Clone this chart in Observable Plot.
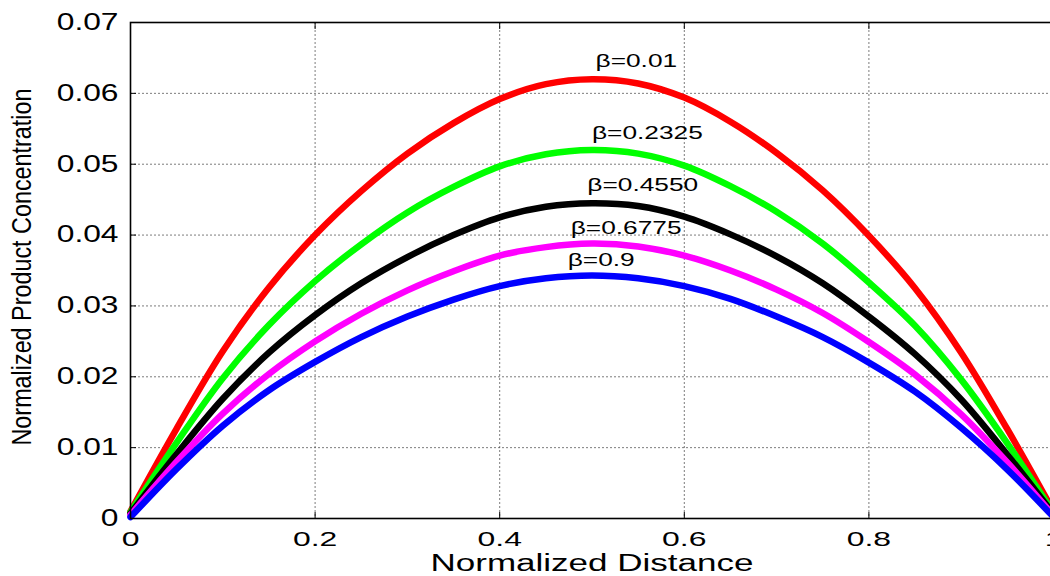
<!DOCTYPE html>
<html>
<head>
<meta charset="utf-8">
<script src="https://cdn.jsdelivr.net/npm/d3@7"></script>
<script src="https://cdn.jsdelivr.net/npm/@observablehq/plot@0.6"></script>
<style>
  html, body { margin: 0; padding: 0; background: white; overflow: hidden; }
</style>
</head>
<body>
<script>
// Normalized distance sample points
const xs = [0, 0.05, 0.1, 0.15, 0.2, 0.25, 0.3, 0.35, 0.4, 0.45, 0.5, 0.55, 0.6, 0.65, 0.7, 0.75, 0.8, 0.85, 0.9, 0.95, 1];

// Normalized product concentration, one array per beta
const beta001  = [0.0010, 0.0127, 0.0236, 0.0326, 0.0400, 0.0462, 0.0515, 0.0558, 0.0592, 0.0613, 0.0620, 0.0614, 0.0594, 0.0560, 0.0516, 0.0463, 0.0399, 0.0325, 0.0234, 0.0126, 0.0010];
const beta02325 = [0.0009, 0.0107, 0.0198, 0.0273, 0.0335, 0.0387, 0.0432, 0.0468, 0.0497, 0.0514, 0.0520, 0.0515, 0.0498, 0.0469, 0.0433, 0.0388, 0.0333, 0.0272, 0.0196, 0.0106, 0.0008];
const beta04550 = [0.0007, 0.0091, 0.0169, 0.0234, 0.0287, 0.0332, 0.0369, 0.0400, 0.0425, 0.0440, 0.0445, 0.0441, 0.0426, 0.0401, 0.0370, 0.0332, 0.0285, 0.0232, 0.0168, 0.0090, 0.0006];
const beta06775 = [0.0005, 0.0080, 0.0148, 0.0204, 0.0250, 0.0289, 0.0322, 0.0349, 0.0371, 0.0383, 0.0388, 0.0384, 0.0371, 0.0350, 0.0323, 0.0290, 0.0249, 0.0203, 0.0147, 0.0079, 0.0004];
const beta09   = [0.0002, 0.0070, 0.0131, 0.0181, 0.0221, 0.0256, 0.0285, 0.0309, 0.0328, 0.0339, 0.0343, 0.0339, 0.0328, 0.0310, 0.0285, 0.0256, 0.0220, 0.0179, 0.0128, 0.0069, 0.0002];

const seriesNames = ["β=0.01", "β=0.2325", "β=0.4550", "β=0.6775", "β=0.9"];
const seriesValues = [beta001, beta02325, beta04550, beta06775, beta09];
const seriesColors = ["#ff0000", "#00ff00", "#000000", "#ff00ff", "#0000ff"];

// label anchor points (data units)
const labelX = [0.548, 0.560, 0.555, 0.537, 0.510];
const labelY = [0.0646, 0.0544, 0.0470, 0.0409, 0.0365];

// ticks
const xTicks = [0, 0.2, 0.4, 0.6, 0.8, 1];
const xTickLabels = ["0", "0.2", "0.4", "0.6", "0.8", "1"];
const yTicks = [0, 0.01, 0.02, 0.03, 0.04, 0.05, 0.06, 0.07];
const yTickLabels = ["0", "0.01", "0.02", "0.03", "0.04", "0.05", "0.06", "0.07"];

const xTitle = "Normalized Distance";
const yTitle = "Normalized Product Concentration";

// build table
const rows = [];
seriesNames.forEach((name, i) => {
  xs.forEach((x, j) => rows.push({series: name, x, y: seriesValues[i][j]}));
});
const labels = seriesNames.map((name, i) => ({text: name, x: labelX[i], y: labelY[i]}));

const colorOf = new Map(seriesNames.map((n, i) => [n, seriesColors[i]]));

const plot = Plot.plot({
  width: 1050,
  height: 576,
  marginLeft: 130,
  marginRight: -3,
  marginTop: 22,
  marginBottom: 58,
  style: {background: "white", overflow: "hidden", fontFamily: "'Liberation Sans', Arial, sans-serif", color: "black"},
  x: {domain: [0, 1], label: null},
  y: {domain: [0, 0.07], label: null},
  marks: [
    Plot.gridX(xTicks.slice(1, -1), {stroke: "#444", strokeOpacity: 0.7, strokeDasharray: "2,2", strokeWidth: 1}),
    Plot.gridY(yTicks.slice(1, -1), {stroke: "#444", strokeOpacity: 0.7, strokeDasharray: "2,2", strokeWidth: 1}),
    ...seriesNames.map(name => Plot.line(rows.filter(d => d.series === name), {
      x: "x", y: "y", stroke: colorOf.get(name), strokeWidth: 6.5, curve: "catmull-rom"
    })),
    Plot.text(labels, {x: "x", y: "y", text: "text", fontSize: 18, fill: "black", textAnchor: "middle"}),
    Plot.frame({stroke: "black", strokeWidth: 1.6}),
    Plot.axisX(xTicks, {anchor: "bottom", tickSize: -6, tickPadding: 19, tickFormat: (d, i) => xTickLabels[i], fontSize: 21, label: null}),
    Plot.axisX(xTicks, {anchor: "top", tickSize: -6, tickFormat: () => "", label: null}),
    Plot.axisY(yTicks, {anchor: "left", tickSize: -6, tickPadding: 18, tickFormat: (d, i) => yTickLabels[i], fontSize: 23, label: null}),
    Plot.text([xTitle], {frameAnchor: "bottom", dy: 45, textAnchor: "middle", lineAnchor: "middle", fontSize: 23, fill: "black"}),
    Plot.text([yTitle], {frameAnchor: "left", dx: -108, dy: -3.5, rotate: -90, textAnchor: "middle", lineAnchor: "middle", fontSize: 28, fill: "black"})
  ]
});

document.body.append(plot);

// horizontal stretch of the text, as in the reference picture
plot.querySelectorAll("text").forEach(t => {
  const s = t.textContent;
  if (!s) return;
  const g = t.parentNode && t.parentNode.getAttribute ? t.parentNode.getAttribute("aria-label") : null;
  const w = t.getComputedTextLength();
  let target = null;
  if (g === "y-axis tick label") target = w * 1.38;
  else if (g === "x-axis tick label") target = w * 1.52;
  else if (s.startsWith("β")) target = w * 1.46;
  else if (s === xTitle) target = 323;
  else if (s === yTitle) target = 357;
  if (target) {
    t.setAttribute("textLength", target);
    t.setAttribute("lengthAdjust", "spacingAndGlyphs");
  }
});
</script>
</body>
</html>
